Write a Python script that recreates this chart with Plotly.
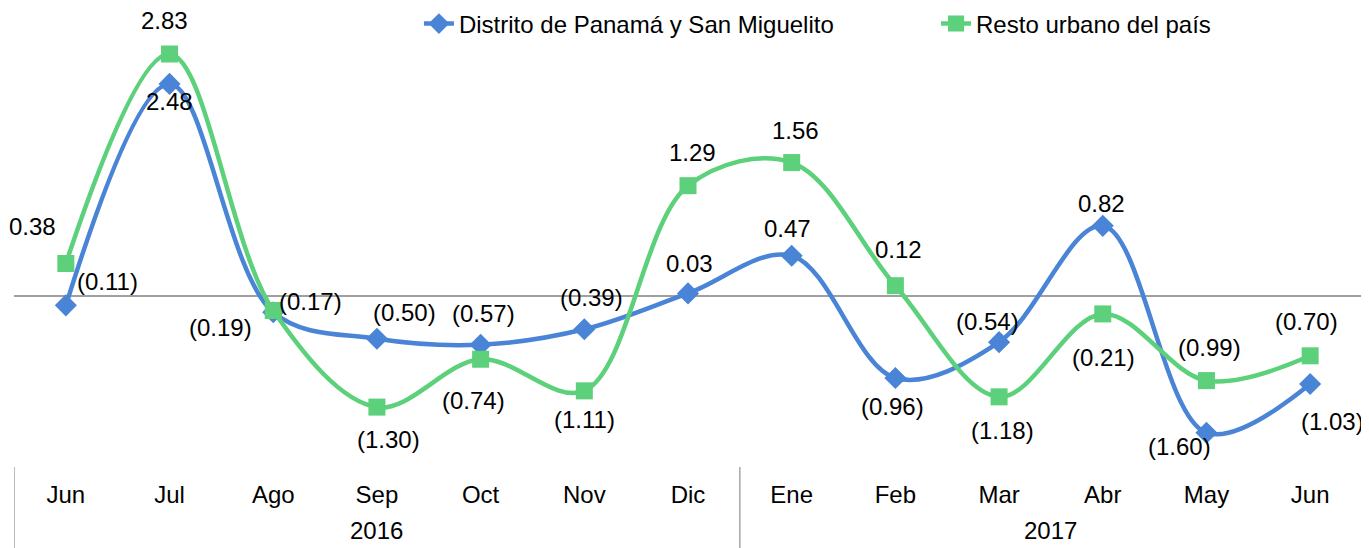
import plotly.graph_objects as go

months = ["Jun", "Jul", "Ago", "Sep", "Oct", "Nov", "Dic", "Ene", "Feb", "Mar", "Abr", "May", "Jun"]
years = ["2016", "2017"]
year_spans = [(0, 6), (7, 12)]

panama = [-0.11, 2.48, -0.19, -0.50, -0.57, -0.39, 0.03, 0.47, -0.96, -0.54, 0.82, -1.60, -1.03]
resto = [0.38, 2.83, -0.17, -1.30, -0.74, -1.11, 1.29, 1.56, 0.12, -1.18, -0.21, -0.99, -0.70]

# label offsets (pixels: dx right, dy down)
panama_off = [(42, -24), (0, 18), (-53, 15), (28, -26), (3, -31), (7, -32), (1, -30),
              (-4, -27), (-3, 28), (-12, -21), (-1, -22), (-27, 14), (22, 37)]
resto_off = [(-33, -37), (-5, -34), (37, -9), (12, 32), (-7, 41), (0, 29), (4, -33),
             (4, -32), (3, -36), (3, 34), (1, 44), (3, -33), (-4, -34)]

BLUE = "#4A84D6"
GREEN = "#5CD07A"
FONT = "Liberation Sans, Arial, sans-serif"
FS = 24

x = list(range(len(months)))

def fmt(v):
    return f"({abs(v):.2f})" if v < 0 else f"{v:.2f}"

fig = go.Figure()
fig.add_trace(go.Scatter(
    x=x, y=panama, name="Distrito de Panamá y San Miguelito", mode="lines+markers",
    line=dict(color=BLUE, width=4.5, shape="spline", smoothing=1.0),
    marker=dict(symbol="diamond", size=17, color=BLUE), legend="legend",
))
fig.add_trace(go.Scatter(
    x=x, y=resto, name="Resto urbano del país", mode="lines+markers",
    line=dict(color=GREEN, width=4.5, shape="spline", smoothing=1.0),
    marker=dict(symbol="square", size=17, color=GREEN), legend="legend2",
))

annotations = []
for vals, offs in ((panama, panama_off), (resto, resto_off)):
    for xi, v, (dx, dy) in zip(x, vals, offs):
        annotations.append(dict(
            x=xi, y=v, text=fmt(v), showarrow=False, xshift=dx, yshift=-dy,
            font=dict(family=FONT, size=FS, color="#000000"),
            xanchor="center", yanchor="middle",
        ))

for yr, (a, b) in zip(years, year_spans):
    annotations.append(dict(
        x=(a + b) / 2, y=-0.15, xref="x", yref="paper", text=yr, showarrow=False,
        font=dict(family=FONT, size=FS, color="#000000"), yanchor="middle", borderpad=0,
    ))

shapes = []
bounds = sorted(set([year_spans[0][0] - 0.5] + [b + 0.5 for _, b in year_spans]))
for bx in bounds:
    shapes.append(dict(type="line", xref="x", yref="paper", x0=bx, x1=bx, y0=-0.011, y1=-0.25,
                       line=dict(color="#A6A6A6", width=1.5)))

legend_common = dict(orientation="h", xanchor="left", y=0.9648, yanchor="middle",
                     font=dict(family=FONT, size=FS, color="#000000"),
                     bgcolor="rgba(0,0,0,0)")

fig.update_layout(
    width=1361, height=540,
    margin=dict(l=6, r=7, t=0, b=86, autoexpand=False),
    paper_bgcolor="white", plot_bgcolor="white",
    font=dict(family=FONT, size=FS, color="#000000"),
    showlegend=True,
    legend=dict(x=0.3004, **legend_common),
    legend2=dict(x=0.684, **legend_common),
    xaxis=dict(range=[-0.5, len(months) - 0.5], tickmode="array", tickvals=x, ticktext=months,
               showgrid=False, zeroline=False, showline=False, ticks="",
               ticklabelstandoff=16, tickfont=dict(family=FONT, size=FS, color="#000000")),
    yaxis=dict(range=[-1.942, 3.368], showgrid=False, showticklabels=False, ticks="",
               zeroline=True, zerolinecolor="#A0A0A0", zerolinewidth=1.5, showline=False),
    annotations=annotations,
    shapes=shapes,
)

fig.write_html("out.html")
